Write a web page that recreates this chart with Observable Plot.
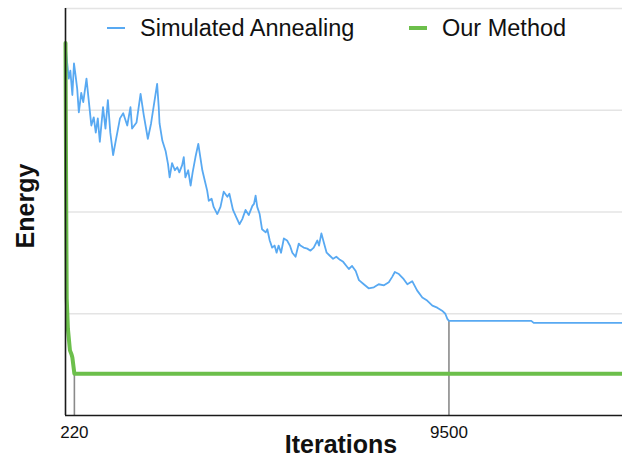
<!DOCTYPE html>
<html>
<head>
<meta charset="utf-8">
<script src="https://cdn.jsdelivr.net/npm/d3@7"></script>
<script src="https://cdn.jsdelivr.net/npm/@observablehq/plot@0.6"></script>
<style>
  html, body { margin: 0; padding: 0; background: #fff; }
  #wrap { position: relative; width: 622px; height: 458px; font-family: "Liberation Sans", Arial, Helvetica, sans-serif; }
  .lg-line { position: absolute; }
  .lg-text { position: absolute; font-size: 23.5px; line-height: 23.5px; color: #111; white-space: nowrap; }
</style>
</head>
<body>
<div id="wrap"></div>
<script>
// ---- data ----
const seriesNames = ["Simulated Annealing", "Our Method"];
const seriesColors = ["#58a9f2", "#6cbf4b"];
// Simulated annealing: [iteration, energy]
const saPoints = [
  [0,3.65],[40,3.47],[80,3.31],[120,3.39],[170,3.15],[210,3.46],[250,3.34],[290,3.21],[330,2.98],[390,3.17],
  [440,3.08],[520,3.31],[580,3.08],[640,2.85],[700,2.93],[750,2.78],[800,2.92],[850,2.69],[930,3.03],[990,2.82],
  [1050,3.10],[1110,2.78],[1180,2.56],[1240,2.69],[1350,2.92],[1430,2.97],[1530,2.85],[1610,3.03],[1650,2.82],[1760,2.88],
  [1860,3.16],[1940,2.95],[2040,2.72],[2120,2.87],[2270,3.26],[2310,3.03],[2330,2.87],[2400,2.70],[2480,2.60],[2540,2.47],
  [2580,2.34],[2640,2.48],[2710,2.41],[2770,2.44],[2820,2.39],[2890,2.46],[2930,2.54],[2970,2.34],[3040,2.41],[3100,2.26],
  [3150,2.39],[3220,2.54],[3290,2.67],[3340,2.54],[3390,2.41],[3450,2.31],[3510,2.21],[3550,2.11],[3620,2.13],[3670,2.05],
  [3760,1.98],[3840,2.05],[3920,2.20],[4010,2.15],[4060,2.18],[4150,2.02],[4230,1.95],[4310,1.88],[4380,1.93],[4460,2.02],
  [4540,1.97],[4630,2.06],[4670,2.08],[4710,2.16],[4750,2.05],[4810,1.98],[4870,1.83],[4960,1.80],[5000,1.83],[5060,1.72],
  [5120,1.65],[5180,1.67],[5230,1.60],[5280,1.67],[5340,1.60],[5410,1.74],[5490,1.72],[5560,1.67],[5620,1.60],[5700,1.56],
  [5780,1.69],[5820,1.67],[5900,1.65],[5990,1.64],[6070,1.62],[6150,1.65],[6240,1.72],[6280,1.67],[6340,1.79],[6400,1.70],
  [6470,1.60],[6550,1.57],[6630,1.54],[6710,1.56],[6800,1.53],[6880,1.51],[6980,1.46],[7020,1.44],[7100,1.47],[7190,1.42],
  [7270,1.33],[7390,1.29],[7510,1.25],[7640,1.26],[7760,1.29],[7890,1.28],[8010,1.31],[8090,1.36],[8160,1.41],[8260,1.39],
  [8380,1.34],[8470,1.29],[8590,1.32],[8710,1.23],[8840,1.16],[8960,1.13],[9090,1.08],[9210,1.06],[9330,1.03],[9410,1.00],
  [9460,0.95],[9500,0.93],[11540,0.93],[11600,0.91],[13800,0.91]
];
// Our method: [iteration, energy]
const ourPoints = [
  [0,3.66],[15,2.30],[30,1.15],[60,0.85],[110,0.64],[150,0.60],[170,0.57],[220,0.41],[13800,0.41]
];
// convergence markers: [iteration, energy]
const convergence = [[220,0.41],[9500,0.93]];
const xTicks = [220, 9500];
const yGrid = [1, 2, 3, 4];
const xDomain = [0, 13800];
const yDomain = [0, 4];

// ---- chart ----
const toObj = (name) => (p) => ({x: p[0], y: p[1], series: name});
const sa = saPoints.map(toObj(seriesNames[0]));
const ours = ourPoints.map(toObj(seriesNames[1]));
const conv = convergence.map(p => ({x: p[0], y: p[1]}));

const chart = Plot.plot({
  width: 622,
  height: 458,
  marginLeft: 65,
  marginRight: 0,
  marginTop: 8,
  marginBottom: 43,
  style: {fontFamily: "'Liberation Sans', Arial, Helvetica, sans-serif", background: "white", color: "#111"},
  x: {domain: xDomain, axis: null},
  y: {domain: yDomain, axis: null},
  marks: [
    Plot.gridY(yGrid, {stroke: "#e4e4e4", strokeOpacity: 1, strokeWidth: 1.3}),
    Plot.ruleX(conv, {x: "x", y1: 0, y2: "y", stroke: "#8a8a8a", strokeWidth: 1.6}),
    Plot.line(sa, {x: "x", y: "y", stroke: seriesColors[0], strokeWidth: 1.8, curve: "linear"}),
    Plot.line(ours, {x: "x", y: "y", stroke: seriesColors[1], strokeWidth: 4, curve: "linear"}),
    Plot.ruleX([xDomain[0]], {y1: yDomain[0], y2: yDomain[1], stroke: "#1a1a1a", strokeWidth: 1.6}),
    Plot.ruleY([yDomain[0]], {stroke: "#1a1a1a", strokeWidth: 1.6}),
    Plot.axisX(xTicks, {tickSize: 0, tickPadding: 10, fontSize: 17, label: null, tickFormat: d => String(d)}),
    Plot.text(["Iterations"], {frameAnchor: "bottom", dy: 29, dx: -3, fontSize: 25, fontWeight: "bold", lineAnchor: "middle", textAnchor: "middle"}),
    Plot.text(["Energy"], {frameAnchor: "left", dx: -40, dy: -6, rotate: -90, fontSize: 25, fontWeight: "bold", lineAnchor: "middle", textAnchor: "middle"})
  ]
});

const wrap = document.getElementById("wrap");
wrap.appendChild(chart);
chart.style.position = "absolute";
chart.style.left = "0px";
chart.style.top = "0px";

// legend (overlaid inside the plot area, top)
const legendItems = [
  {name: seriesNames[0], color: seriesColors[0], lineLeft: 107, lineW: 18, lineH: 1.8, textLeft: 140},
  {name: seriesNames[1], color: seriesColors[1], lineLeft: 409, lineW: 18, lineH: 4, textLeft: 442}
];
for (const it of legendItems) {
  const l = document.createElement("div");
  l.className = "lg-line";
  l.style.left = it.lineLeft + "px";
  l.style.top = (28 - it.lineH / 2) + "px";
  l.style.width = it.lineW + "px";
  l.style.height = it.lineH + "px";
  l.style.background = it.color;
  wrap.appendChild(l);
  const t = document.createElement("div");
  t.className = "lg-text";
  t.style.left = it.textLeft + "px";
  t.style.top = "17px";
  t.textContent = it.name;
  wrap.appendChild(t);
}
</script>
</body>
</html>
